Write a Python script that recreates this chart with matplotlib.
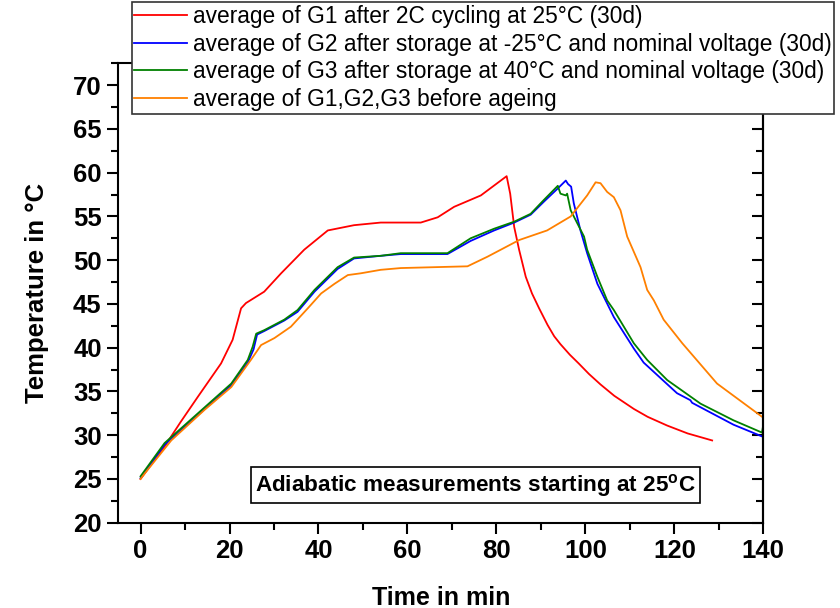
import matplotlib
matplotlib.use("Agg")
import matplotlib.pyplot as plt

plt.rcParams['font.family'] = ['Liberation Sans', 'DejaVu Sans']
plt.rcParams['mathtext.fontset'] = 'custom'
plt.rcParams['mathtext.rm'] = 'Liberation Sans'
plt.rcParams['mathtext.bf'] = 'Liberation Sans:bold'

# ---- data ----
g1_x = [0, 5.4, 9.0, 12.9, 18.1, 20.7, 22.6, 23.7, 27.8, 31.6, 36.8, 42.1, 48.0, 54.0, 63.0, 66.8,
        70.5, 76.5, 82.3, 83.1, 84.0, 85.1, 86.6, 88.0, 89.6, 91.5, 93.0, 94.4, 96.5, 98.5, 100.8,
        103.4, 106.5, 110.9, 114.0, 118.4, 123.0, 128.5]
g1_y = [25.0, 28.7, 31.5, 34.4, 38.2, 40.9, 44.5, 45.1, 46.4, 48.5, 51.2, 53.4, 54.0, 54.3, 54.3, 54.9,
        56.1, 57.4, 59.6, 57.6, 53.8, 51.2, 48.1, 46.2, 44.5, 42.6, 41.3, 40.4, 39.2, 38.2, 37.0,
        35.8, 34.5, 33.0, 32.1, 31.1, 30.2, 29.4]

g2_x = [0, 5.4, 12.9, 20.4, 24.1, 25.4, 26.2, 27.8, 32.3, 35.3, 39.1, 44.3, 48.0, 54.0, 58.5,
        69.0, 74.2, 79.5, 84.0, 87.7, 90.7, 93.8, 95.6, 96.1, 96.8, 97.4, 98.9, 100.4, 102.7,
        106.4, 110.9, 113.1, 120.6, 123.6, 124.0, 133.3, 140]
g2_y = [25.1, 28.9, 32.3, 35.7, 38.3, 39.8, 41.5, 41.9, 43.1, 44.1, 46.4, 49.0, 50.2, 50.5, 50.7,
        50.7, 52.2, 53.4, 54.3, 55.2, 56.7, 58.2, 59.1, 58.7, 58.4, 56.5, 53.4, 50.8, 47.3,
        43.5, 39.9, 38.3, 34.8, 34.0, 33.7, 31.2, 29.8]

g3_x = [0, 5.4, 12.9, 20.4, 24.1, 25.2, 26.0, 27.8, 32.3, 35.3, 39.1, 44.3, 48.0, 54.0, 58.5,
        69.0, 74.2, 79.5, 84.0, 87.7, 90.7, 93.8, 94.4, 95.6, 95.9, 96.7, 98.2, 99.7, 100.4,
        102.7, 104.9, 106.4, 110.9, 113.9, 118.4, 125.9, 133.3, 139.7, 140]
g3_y = [25.3, 29.1, 32.5, 35.9, 38.6, 40.1, 41.6, 42.0, 43.2, 44.3, 46.6, 49.2, 50.3, 50.5, 50.8,
        50.8, 52.5, 53.6, 54.4, 55.3, 56.9, 58.5, 57.6, 57.4, 57.6, 55.7, 54.2, 52.7, 51.2,
        48.1, 45.4, 44.3, 40.5, 38.6, 36.3, 33.6, 31.7, 30.3, 31.2]

g0_x = [0, 0.9, 6.9, 14.4, 20.4, 24.8, 27.1, 30.1, 33.8, 37.6, 40.6, 43.6, 46.6, 49.5, 54.0,
        58.5, 73.5, 78.0, 85.1, 91.4, 96.7, 100.4, 102.3, 103.4, 104.9, 106.4, 107.9, 109.4,
        112.4, 113.9, 115.4, 117.6, 121.8, 129.6, 140]
g0_y = [25.0, 25.6, 29.4, 32.9, 35.5, 38.6, 40.3, 41.1, 42.4, 44.5, 46.2, 47.3, 48.3, 48.5, 48.9,
        49.1, 49.3, 50.4, 52.3, 53.4, 55.0, 57.4, 58.9, 58.8, 57.8, 57.2, 55.7, 52.7,
        49.2, 46.6, 45.4, 43.2, 40.5, 35.9, 32.0]

labels = ["average of G1 after 2C cycling at 25°C (30d)",
          "average of G2 after storage at -25°C and nominal voltage (30d)",
          "average of G3 after storage at 40°C and nominal voltage (30d)",
          "average of G1,G2,G3 before ageing"]
colors = ["#FF0000", "#0000FF", "#008000", "#FF8000"]

x_ticks = [0, 20, 40, 60, 80, 100, 120, 140]
y_ticks = [20, 25, 30, 35, 40, 45, 50, 55, 60, 65, 70]
x_minor = [10, 30, 50, 70, 90, 110, 130]
y_minor = [22.5, 27.5, 32.5, 37.5, 42.5, 47.5, 52.5, 57.5, 62.5, 67.5, 72.5]

# ---- figure ----
fig = plt.figure(figsize=(8.4, 6.08), dpi=100)
ax = fig.add_axes([118.3/840, 1-522.7/608, (763.3-118.3)/840, (522.7-63.3)/608])

lines = []
for xs, ys, c, lab in zip([g1_x, g2_x, g3_x, g0_x], [g1_y, g2_y, g3_y, g0_y], colors, labels):
    l, = ax.plot(xs, ys, color=c, lw=1.3, label=lab)
    lines.append(l)

ax.set_xlim(-5, 140)
ax.set_ylim(20, 72.5)
ax.set_xticks(x_ticks)
ax.set_yticks(y_ticks)
ax.set_xticks(x_minor, minor=True)
ax.set_yticks(y_minor, minor=True)

for s in ax.spines.values():
    s.set_linewidth(1.5)

ax.tick_params(axis='both', which='major', direction='out', length=8, width=1.5,
               labelsize=18.5, pad=4, top=False, right=False)
ax.tick_params(axis='both', which='minor', direction='out', length=5, width=1.5,
               top=False, right=False)
for t in ax.get_xticklabels() + ax.get_yticklabels():
    t.set_fontweight('bold')

# right side ticks pointing inward
ax2 = ax.secondary_yaxis('right')
ax2.set_yticks(y_ticks)
ax2.set_yticks(y_minor, minor=True)
ax2.tick_params(which='major', direction='in', length=8, width=1.5, labelright=False)
ax2.tick_params(which='minor', direction='in', length=5, width=1.5, labelright=False)
ax2.spines['right'].set_linewidth(1.5)

ax.set_xlabel("Time in min", fontsize=18, fontweight='bold', labelpad=16)
ax.set_ylabel("Temperature in °C", fontsize=18.5, fontweight='bold', labelpad=17)

ax.text(0.5538, 0.082, r"Adiabatic measurements starting at 25$^\mathbf{o}$C",
        transform=ax.transAxes, fontsize=16.2, fontweight='bold', ha='center', va='center',
        bbox=dict(boxstyle='square,pad=0.2', facecolor='white', edgecolor='black', linewidth=1.2))

leg = fig.legend(handles=lines, loc='upper left', bbox_to_anchor=(131.7/840, 1-2/608),
                 fontsize=16.4, frameon=True, fancybox=False, framealpha=1,
                 edgecolor='#333333', handlelength=2.3, handletextpad=0.26,
                 labelspacing=0.21, borderpad=0.12, borderaxespad=0)
leg.get_frame().set_linewidth(1.2)

fig.savefig("out.png", dpi=100)
